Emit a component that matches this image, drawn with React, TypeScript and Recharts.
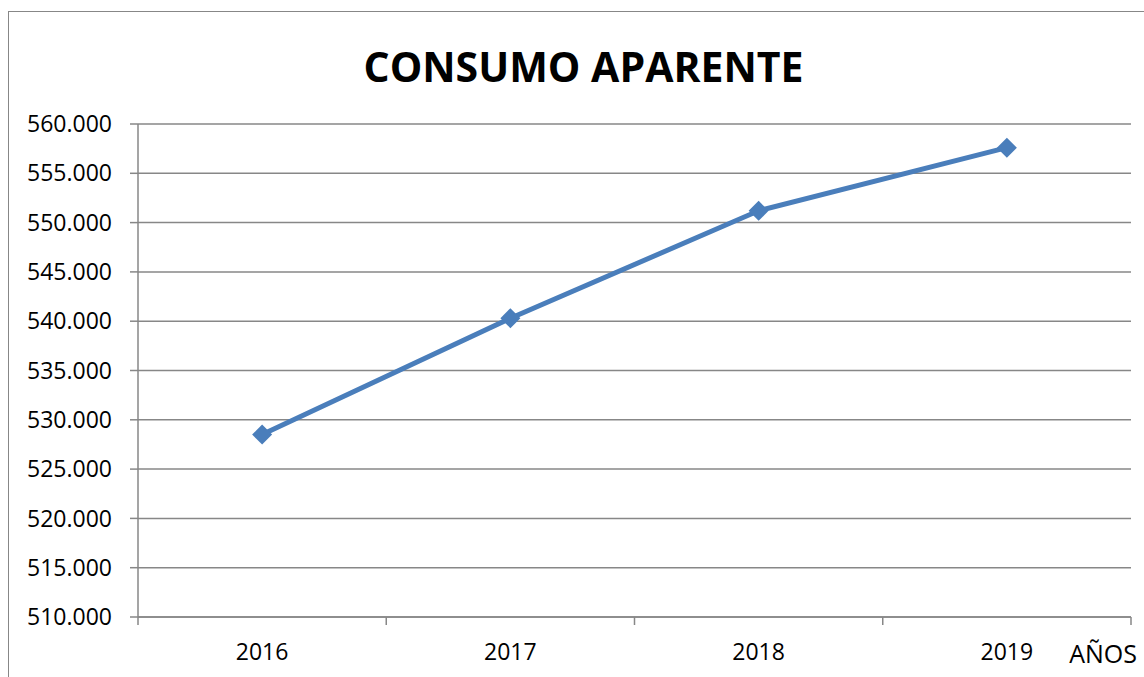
import { LineChart, Line, XAxis, YAxis, CartesianGrid } from "recharts";

const years = ["2016", "2017", "2018", "2019"];
const consumo = [528500, 540300, 551200, 557600];
const yTicks = [510000, 515000, 520000, 525000, 530000, 535000, 540000, 545000, 550000, 555000, 560000];

const data = years.map((year, i) => ({ year, consumo: consumo[i] }));

const FONT = "'Open Sans', sans-serif";
const GRID = "#878787";
const BLUE = "#4A7EBB";

// 560000 -> "560.000"
const fmt = (v: number) => String(v).replace(/\B(?=(\d{3})+(?!\d))/g, ".");

function Diamond(props: any) {
  const { cx, cy } = props;
  if (cx == null || cy == null) return null;
  const r = 10;
  return (
    <polygon
      points={`${cx},${cy - r} ${cx + r},${cy} ${cx},${cy + r} ${cx - r},${cy}`}
      fill={BLUE}
    />
  );
}

function YearTick(props: any) {
  const { x, y, payload, index } = props;
  const half = payload?.offset ?? 124;
  return (
    <g>
      <line x1={x - half} x2={x - half} y1={y - 8} y2={y} stroke={GRID} strokeWidth={1.5} />
      {index === years.length - 1 && (
        <line x1={x + half} x2={x + half} y1={y - 8} y2={y} stroke={GRID} strokeWidth={1.5} />
      )}
      <text x={x} y={y + 35} textAnchor="middle" fontFamily={FONT} fontSize={23} fill="#000">
        {payload.value}
      </text>
    </g>
  );
}

export default function App() {
  return (
    <div
      style={{
        position: "fixed",
        left: 0,
        top: 0,
        width: 1144,
        height: 677,
        overflow: "hidden",
        background: "#fff",
      }}
    >
      <div
        style={{
          position: "absolute",
          left: 8,
          top: 11,
          width: 1300,
          height: 800,
          border: `1.5px solid ${GRID}`,
        }}
      />
      <svg width={1144} height={677} style={{ position: "absolute", left: 0, top: 0 }}>
        <text x={583.5} y={82} textAnchor="middle" fontFamily={FONT} fontWeight={700} fontSize={41} fill="#000">
          CONSUMO APARENTE
        </text>
      </svg>
      <div style={{ position: "absolute", left: 0, top: 0 }}>
        <LineChart width={1144} height={677} data={data} margin={{ top: 124, right: 13, bottom: 0, left: 0 }}>
          <CartesianGrid vertical={false} stroke={GRID} strokeWidth={1.5} />
          <XAxis
            dataKey="year"
            scale="band"
            height={60}
            axisLine={{ stroke: GRID, strokeWidth: 1.5 }}
            tickLine={false}
            tickSize={8}
            tickMargin={0}
            tick={<YearTick />}
            interval={0}
            label={(p: any) => {
              const vb = p.viewBox || { x: 138, y: 617, width: 993 };
              return (
                <text
                  x={vb.x + vb.width + 6}
                  y={vb.y + 46}
                  textAnchor="end"
                  fontFamily={FONT}
                  fontSize={25}
                  fill="#000"
                >
                  AÑOS
                </text>
              );
            }}
          />
          <YAxis
            width={138}
            domain={[510000, 560000]}
            ticks={yTicks}
            interval={0}
            tickFormatter={fmt}
            axisLine={{ stroke: GRID, strokeWidth: 1.5 }}
            tickLine={{ stroke: GRID, strokeWidth: 1.5 }}
            tickSize={8}
            tickMargin={18}
            tick={{ fontFamily: FONT, fontSize: 23, fill: "#000" }}
          />
          <Line
            type="linear"
            dataKey="consumo"
            stroke={BLUE}
            strokeWidth={5}
            dot={<Diamond />}
            activeDot={false}
            isAnimationActive={false}
          />
        </LineChart>
      </div>
    </div>
  );
}
